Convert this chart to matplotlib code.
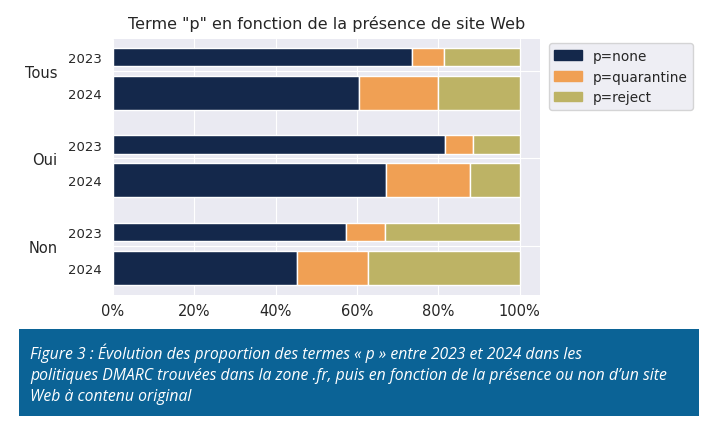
import matplotlib
matplotlib.use('Agg')
import matplotlib.pyplot as plt
import matplotlib.patches as mpatches
import seaborn as sns
import numpy as np

# Data (shares)
groups = ['Tous', 'Oui', 'Non']
years = ['2023', '2024']
policies = ['p=none', 'p=quarantine', 'p=reject']
none_2023 = [0.735, 0.817, 0.572]
quar_2023 = [0.079, 0.068, 0.096]
none_2024 = [0.604, 0.672, 0.453]
quar_2024 = [0.196, 0.205, 0.174]
reject_2023 = [1 - n - q for n, q in zip(none_2023, quar_2023)]
reject_2024 = [1 - n - q for n, q in zip(none_2024, quar_2024)]

colors = ['#14284b', '#f0a054', '#bdb365']

sns.set_style('darkgrid')
plt.rcParams['font.family'] = ['DejaVu Sans']

fig = plt.figure(figsize=(7.14, 4.27), dpi=100)
ax = fig.add_axes([0.1583, 0.3068, 0.598, 0.5995])

pos = np.arange(len(groups))
layout = {
    '2023': (pos - 0.16, 0.21, [none_2023, quar_2023, reject_2023]),
    '2024': (pos + 0.25, 0.39, [none_2024, quar_2024, reject_2024]),
}
for year in years:
    y, h, series = layout[year]
    left = np.zeros(len(groups))
    for vals, c in zip(series, colors):
        ax.barh(y, vals, height=h, left=left, color=c, edgecolor='white',
                linewidth=1, zorder=2)
        left = left + np.array(vals)

ax.set_xlim(0, 1.05)
ax.set_ylim(2.563, -0.368)
ax.set_xticks([0, 0.2, 0.4, 0.6, 0.8, 1.0])
ax.set_xticklabels(['0%', '20%', '40%', '60%', '80%', '100%'], fontsize=10.5)

ax.set_yticks(pos)
ax.set_yticklabels(groups, fontsize=10.5)
ax.set_yticks(np.concatenate([pos - 0.16, pos + 0.25]), minor=True)
ax.set_yticklabels(['2023'] * 3 + ['2024'] * 3, minor=True, fontsize=9.5)
ax.tick_params(axis='y', which='major', pad=40, length=0)
ax.tick_params(axis='y', which='minor', pad=8, length=0)
ax.tick_params(axis='x', pad=6, length=0)
ax.grid(axis='y', which='minor', visible=False)
for s in ax.spines.values():
    s.set_visible(False)

ax.set_title('Terme "p" en fonction de la présence de site Web', fontsize=11.5, pad=8)

handles = [mpatches.Patch(color=c, label=l) for c, l in zip(colors, policies)]
ax.legend(handles=handles, loc='upper left', bbox_to_anchor=(1.005, 1.01),
          fontsize=9.8, frameon=True)

# Caption box
fig.patches.append(mpatches.Rectangle((19 / 714, 1 - 417 / 427), 680 / 714, 87 / 427,
                                      transform=fig.transFigure, facecolor='#0b6396',
                                      edgecolor='none', zorder=0))
caption = ("Figure 3 : Évolution des proportion des termes « p » entre 2023 et 2024 dans les\n"
           "politiques DMARC trouvées dans la zone .fr, puis en fonction de la présence ou non d’un site\n"
           "Web à contenu original")
fig.text(30 / 714, 1 - 344 / 427, caption, color='white', fontsize=11.3, style='italic',
         family=['Open Sans', 'DejaVu Sans'], va='top', ha='left', linespacing=1.4)

fig.savefig('out.png', dpi=100)
